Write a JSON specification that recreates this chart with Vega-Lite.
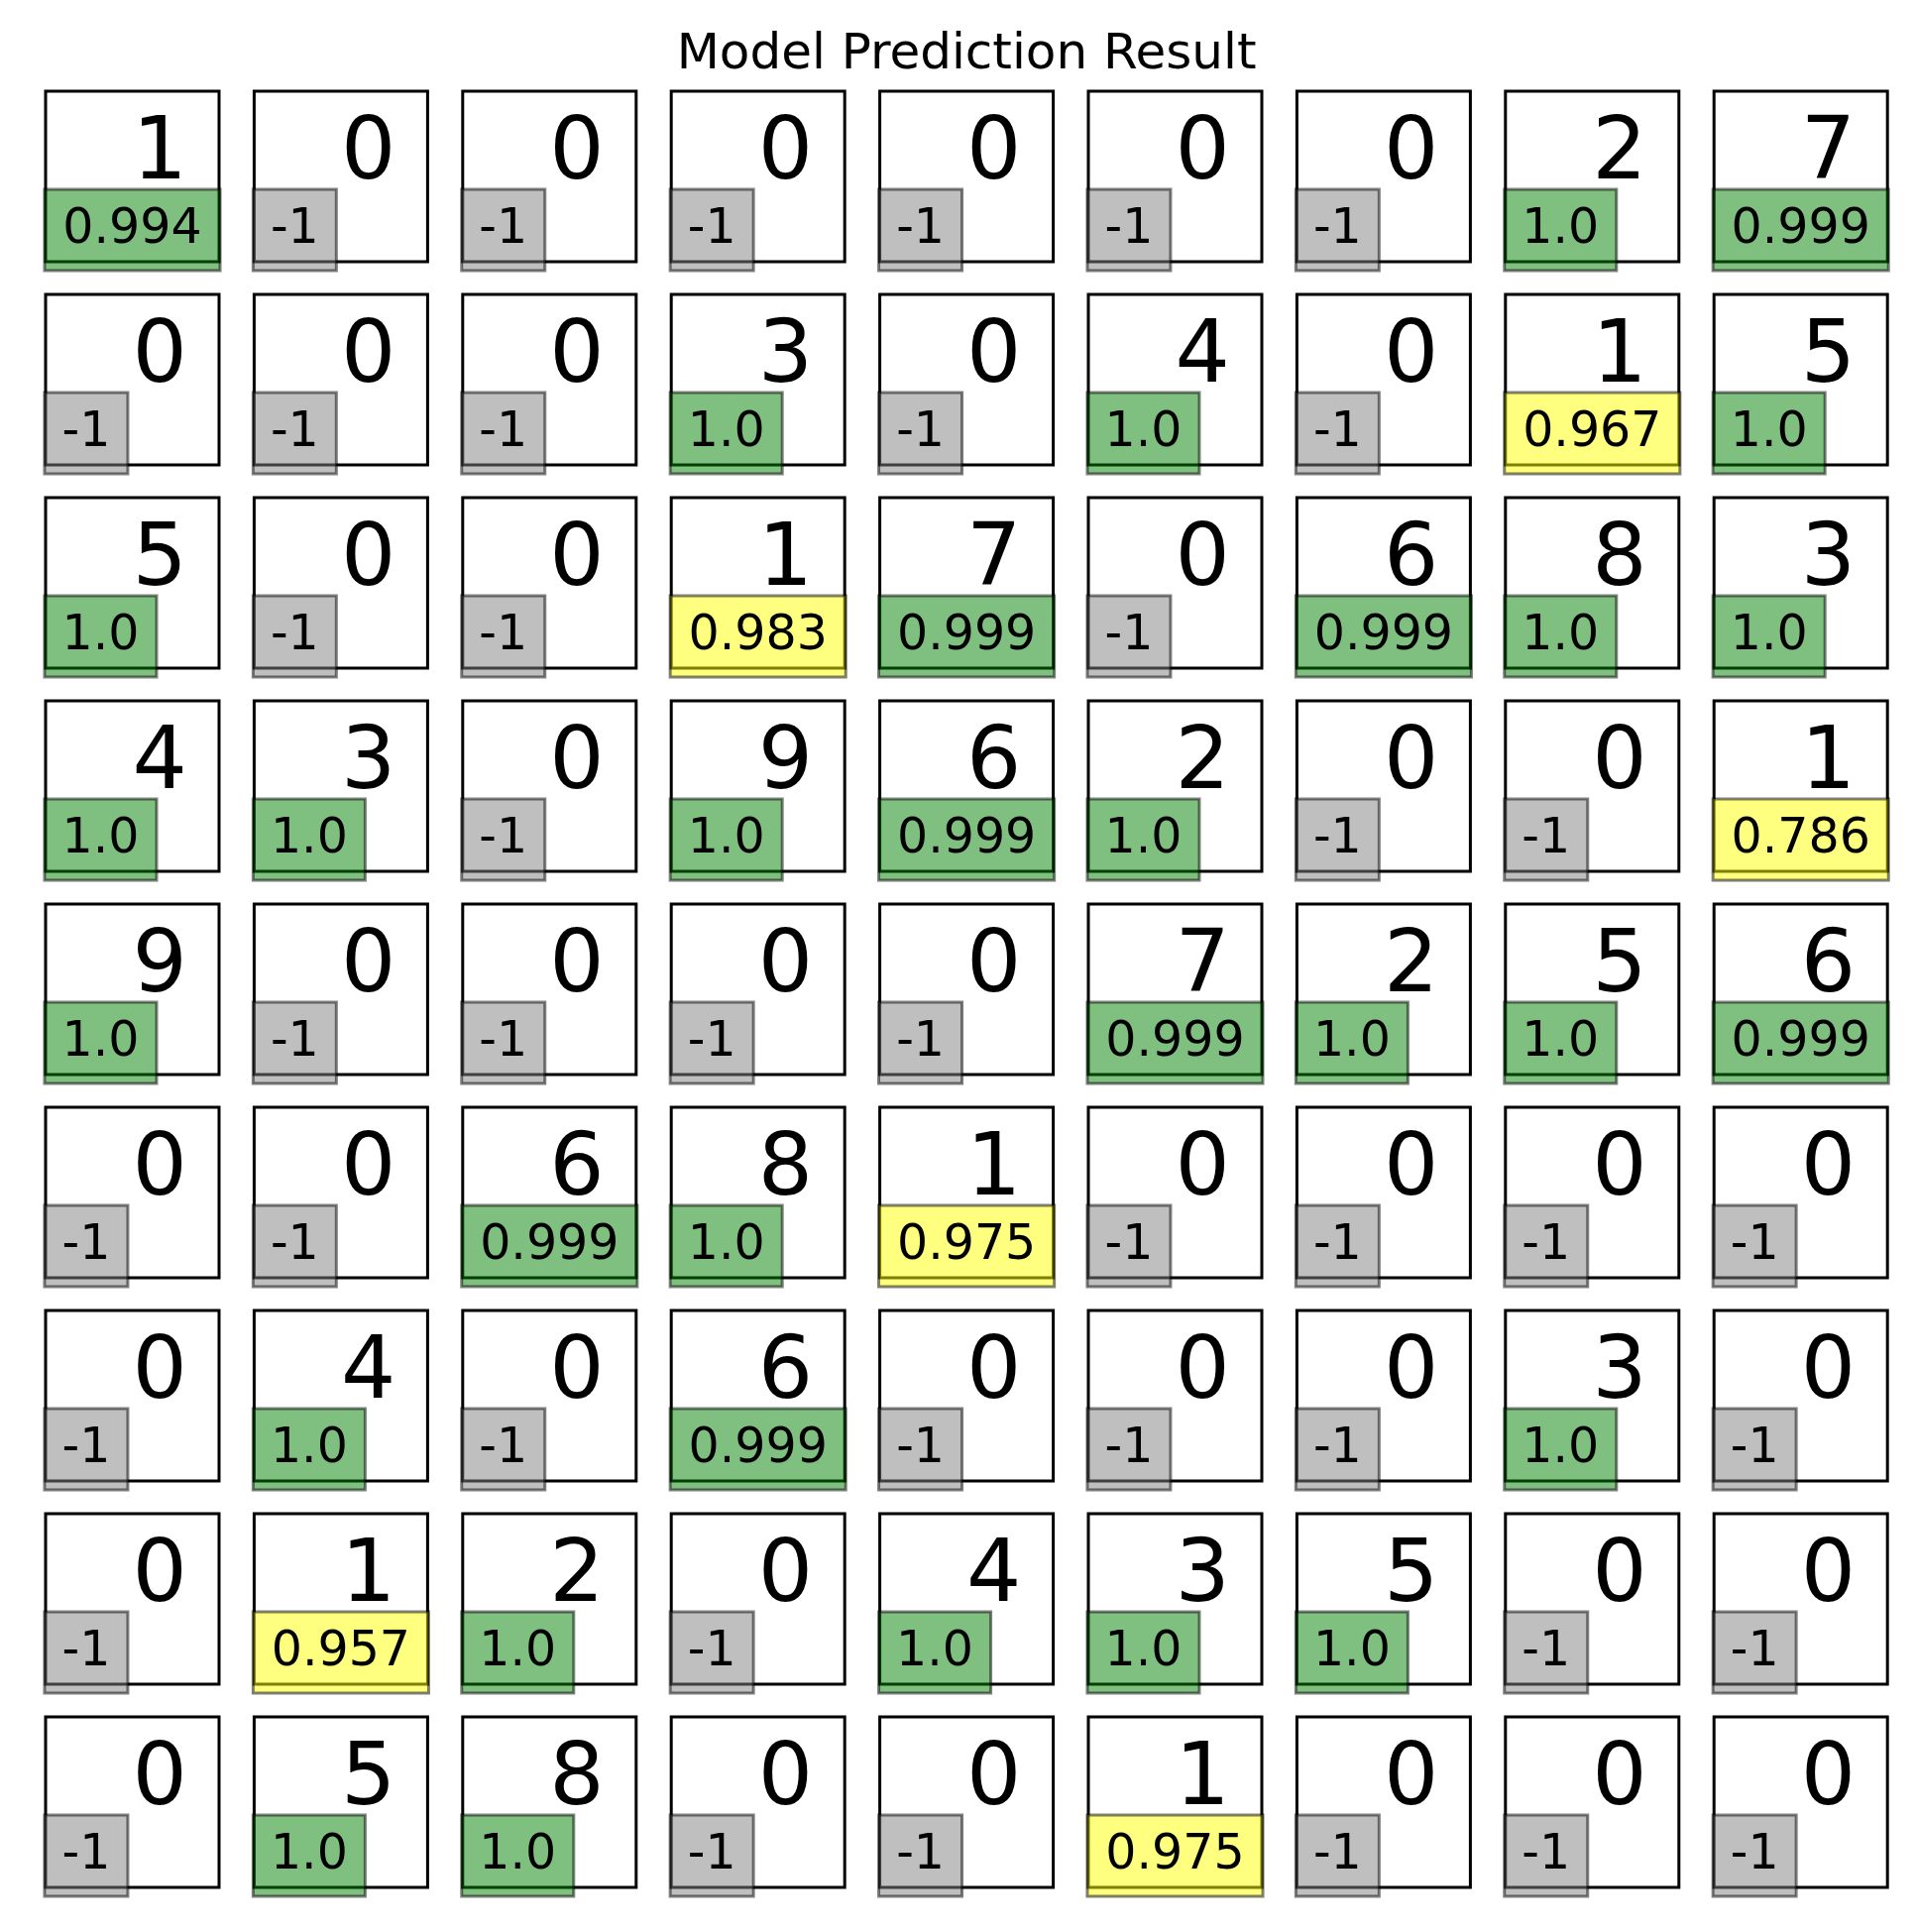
{
  "$schema": "https://vega.github.io/schema/vega-lite/v6.json",
  "background": "white",
  "padding": {"left": 41, "top": 28, "right": 10, "bottom": 10},
  "bounds": "flush",
  "title": {"text": "Model Prediction Result", "fontSize": 50, "font": "DejaVu Sans", "fontWeight": "normal", "color": "black", "anchor": "middle", "offset": 12},
  "data": {"values": [
    {"i": 0, "digit": "1", "score": "0.994", "status": "high"},
    {"i": 1, "digit": "0", "score": "-1", "status": "none"},
    {"i": 2, "digit": "0", "score": "-1", "status": "none"},
    {"i": 3, "digit": "0", "score": "-1", "status": "none"},
    {"i": 4, "digit": "0", "score": "-1", "status": "none"},
    {"i": 5, "digit": "0", "score": "-1", "status": "none"},
    {"i": 6, "digit": "0", "score": "-1", "status": "none"},
    {"i": 7, "digit": "2", "score": "1.0", "status": "high"},
    {"i": 8, "digit": "7", "score": "0.999", "status": "high"},
    {"i": 9, "digit": "0", "score": "-1", "status": "none"},
    {"i": 10, "digit": "0", "score": "-1", "status": "none"},
    {"i": 11, "digit": "0", "score": "-1", "status": "none"},
    {"i": 12, "digit": "3", "score": "1.0", "status": "high"},
    {"i": 13, "digit": "0", "score": "-1", "status": "none"},
    {"i": 14, "digit": "4", "score": "1.0", "status": "high"},
    {"i": 15, "digit": "0", "score": "-1", "status": "none"},
    {"i": 16, "digit": "1", "score": "0.967", "status": "low"},
    {"i": 17, "digit": "5", "score": "1.0", "status": "high"},
    {"i": 18, "digit": "5", "score": "1.0", "status": "high"},
    {"i": 19, "digit": "0", "score": "-1", "status": "none"},
    {"i": 20, "digit": "0", "score": "-1", "status": "none"},
    {"i": 21, "digit": "1", "score": "0.983", "status": "low"},
    {"i": 22, "digit": "7", "score": "0.999", "status": "high"},
    {"i": 23, "digit": "0", "score": "-1", "status": "none"},
    {"i": 24, "digit": "6", "score": "0.999", "status": "high"},
    {"i": 25, "digit": "8", "score": "1.0", "status": "high"},
    {"i": 26, "digit": "3", "score": "1.0", "status": "high"},
    {"i": 27, "digit": "4", "score": "1.0", "status": "high"},
    {"i": 28, "digit": "3", "score": "1.0", "status": "high"},
    {"i": 29, "digit": "0", "score": "-1", "status": "none"},
    {"i": 30, "digit": "9", "score": "1.0", "status": "high"},
    {"i": 31, "digit": "6", "score": "0.999", "status": "high"},
    {"i": 32, "digit": "2", "score": "1.0", "status": "high"},
    {"i": 33, "digit": "0", "score": "-1", "status": "none"},
    {"i": 34, "digit": "0", "score": "-1", "status": "none"},
    {"i": 35, "digit": "1", "score": "0.786", "status": "low"},
    {"i": 36, "digit": "9", "score": "1.0", "status": "high"},
    {"i": 37, "digit": "0", "score": "-1", "status": "none"},
    {"i": 38, "digit": "0", "score": "-1", "status": "none"},
    {"i": 39, "digit": "0", "score": "-1", "status": "none"},
    {"i": 40, "digit": "0", "score": "-1", "status": "none"},
    {"i": 41, "digit": "7", "score": "0.999", "status": "high"},
    {"i": 42, "digit": "2", "score": "1.0", "status": "high"},
    {"i": 43, "digit": "5", "score": "1.0", "status": "high"},
    {"i": 44, "digit": "6", "score": "0.999", "status": "high"},
    {"i": 45, "digit": "0", "score": "-1", "status": "none"},
    {"i": 46, "digit": "0", "score": "-1", "status": "none"},
    {"i": 47, "digit": "6", "score": "0.999", "status": "high"},
    {"i": 48, "digit": "8", "score": "1.0", "status": "high"},
    {"i": 49, "digit": "1", "score": "0.975", "status": "low"},
    {"i": 50, "digit": "0", "score": "-1", "status": "none"},
    {"i": 51, "digit": "0", "score": "-1", "status": "none"},
    {"i": 52, "digit": "0", "score": "-1", "status": "none"},
    {"i": 53, "digit": "0", "score": "-1", "status": "none"},
    {"i": 54, "digit": "0", "score": "-1", "status": "none"},
    {"i": 55, "digit": "4", "score": "1.0", "status": "high"},
    {"i": 56, "digit": "0", "score": "-1", "status": "none"},
    {"i": 57, "digit": "6", "score": "0.999", "status": "high"},
    {"i": 58, "digit": "0", "score": "-1", "status": "none"},
    {"i": 59, "digit": "0", "score": "-1", "status": "none"},
    {"i": 60, "digit": "0", "score": "-1", "status": "none"},
    {"i": 61, "digit": "3", "score": "1.0", "status": "high"},
    {"i": 62, "digit": "0", "score": "-1", "status": "none"},
    {"i": 63, "digit": "0", "score": "-1", "status": "none"},
    {"i": 64, "digit": "1", "score": "0.957", "status": "low"},
    {"i": 65, "digit": "2", "score": "1.0", "status": "high"},
    {"i": 66, "digit": "0", "score": "-1", "status": "none"},
    {"i": 67, "digit": "4", "score": "1.0", "status": "high"},
    {"i": 68, "digit": "3", "score": "1.0", "status": "high"},
    {"i": 69, "digit": "5", "score": "1.0", "status": "high"},
    {"i": 70, "digit": "0", "score": "-1", "status": "none"},
    {"i": 71, "digit": "0", "score": "-1", "status": "none"},
    {"i": 72, "digit": "0", "score": "-1", "status": "none"},
    {"i": 73, "digit": "5", "score": "1.0", "status": "high"},
    {"i": 74, "digit": "8", "score": "1.0", "status": "high"},
    {"i": 75, "digit": "0", "score": "-1", "status": "none"},
    {"i": 76, "digit": "0", "score": "-1", "status": "none"},
    {"i": 77, "digit": "1", "score": "0.975", "status": "low"},
    {"i": 78, "digit": "0", "score": "-1", "status": "none"},
    {"i": 79, "digit": "0", "score": "-1", "status": "none"},
    {"i": 80, "digit": "0", "score": "-1", "status": "none"}
  ]},
  "facet": {"field": "i", "type": "ordinal", "header": {"title": null, "labels": false, "labelExpr": "''", "labelFontSize": 0, "labelPadding": 0}},
  "columns": 9,
  "spacing": {"column": 35.4, "row": 33},
  "spec": {
    "width": 175,
    "height": 172,
    "layer": [
      {
        "mark": {"type": "text", "align": "left", "baseline": "alphabetic", "fontSize": 87, "font": "DejaVu Sans", "color": "black"},
        "encoding": {
          "x": {"datum": 0.5, "type": "quantitative", "scale": {"domain": [0, 1], "nice": false, "zero": false}, "axis": null},
          "y": {"datum": 0.488, "type": "quantitative", "scale": {"domain": [0, 1], "nice": false, "zero": false}, "axis": null},
          "text": {"field": "digit"}
        }
      },
      {
        "transform": [{"filter": "datum.score == '-1'"}],
        "layer": [
          {
            "mark": {"type": "rect", "fillOpacity": 0.5, "stroke": "black", "strokeOpacity": 0.5, "strokeWidth": 3},
            "encoding": {
              "x": {"datum": -0.006, "type": "quantitative", "scale": {"domain": [0, 1], "nice": false, "zero": false}, "axis": null},
              "x2": {"datum": 0.474},
              "y": {"datum": -0.052, "type": "quantitative", "scale": {"domain": [0, 1], "nice": false, "zero": false}, "axis": null},
              "y2": {"datum": 0.424},
              "color": {"field": "status", "type": "nominal", "scale": {"domain": ["high", "low", "none"], "range": ["#008000", "#ffff00", "#808080"]}, "legend": null}
            }
          },
          {
            "mark": {"type": "text", "align": "center", "baseline": "alphabetic", "fontSize": 49, "font": "DejaVu Sans", "color": "black"},
            "encoding": {
              "x": {"datum": 0.234, "type": "quantitative", "scale": {"domain": [0, 1], "nice": false, "zero": false}, "axis": null},
              "y": {"datum": 0.11, "type": "quantitative", "scale": {"domain": [0, 1], "nice": false, "zero": false}, "axis": null},
              "text": {"field": "score"}
            }
          }
        ]
      },
      {
        "transform": [{"filter": "datum.score == '1.0'"}],
        "layer": [
          {
            "mark": {"type": "rect", "fillOpacity": 0.5, "stroke": "black", "strokeOpacity": 0.5, "strokeWidth": 3},
            "encoding": {
              "x": {"datum": -0.006, "type": "quantitative", "scale": {"domain": [0, 1], "nice": false, "zero": false}, "axis": null},
              "x2": {"datum": 0.64},
              "y": {"datum": -0.052, "type": "quantitative", "scale": {"domain": [0, 1], "nice": false, "zero": false}, "axis": null},
              "y2": {"datum": 0.424},
              "color": {"field": "status", "type": "nominal", "scale": {"domain": ["high", "low", "none"], "range": ["#008000", "#ffff00", "#808080"]}, "legend": null}
            }
          },
          {
            "mark": {"type": "text", "align": "center", "baseline": "alphabetic", "fontSize": 49, "font": "DejaVu Sans", "color": "black"},
            "encoding": {
              "x": {"datum": 0.317, "type": "quantitative", "scale": {"domain": [0, 1], "nice": false, "zero": false}, "axis": null},
              "y": {"datum": 0.11, "type": "quantitative", "scale": {"domain": [0, 1], "nice": false, "zero": false}, "axis": null},
              "text": {"field": "score"}
            }
          }
        ]
      },
      {
        "transform": [{"filter": "datum.score != '1.0' && datum.score != '-1'"}],
        "layer": [
          {
            "mark": {"type": "rect", "fillOpacity": 0.5, "stroke": "black", "strokeOpacity": 0.5, "strokeWidth": 3},
            "encoding": {
              "x": {"datum": -0.006, "type": "quantitative", "scale": {"domain": [0, 1], "nice": false, "zero": false}, "axis": null},
              "x2": {"datum": 1.006},
              "y": {"datum": -0.052, "type": "quantitative", "scale": {"domain": [0, 1], "nice": false, "zero": false}, "axis": null},
              "y2": {"datum": 0.424},
              "color": {"field": "status", "type": "nominal", "scale": {"domain": ["high", "low", "none"], "range": ["#008000", "#ffff00", "#808080"]}, "legend": null}
            }
          },
          {
            "mark": {"type": "text", "align": "center", "baseline": "alphabetic", "fontSize": 49, "font": "DejaVu Sans", "color": "black"},
            "encoding": {
              "x": {"datum": 0.5, "type": "quantitative", "scale": {"domain": [0, 1], "nice": false, "zero": false}, "axis": null},
              "y": {"datum": 0.11, "type": "quantitative", "scale": {"domain": [0, 1], "nice": false, "zero": false}, "axis": null},
              "text": {"field": "score"}
            }
          }
        ]
      }
    ]
  },
  "config": {
    "view": {"stroke": "black", "strokeWidth": 3, "fill": "white"},
    "text": {"font": "DejaVu Sans"},
    "headerFacet": {"labels": false, "title": null, "labelFontSize": 0, "labelPadding": 0}
  }
}
